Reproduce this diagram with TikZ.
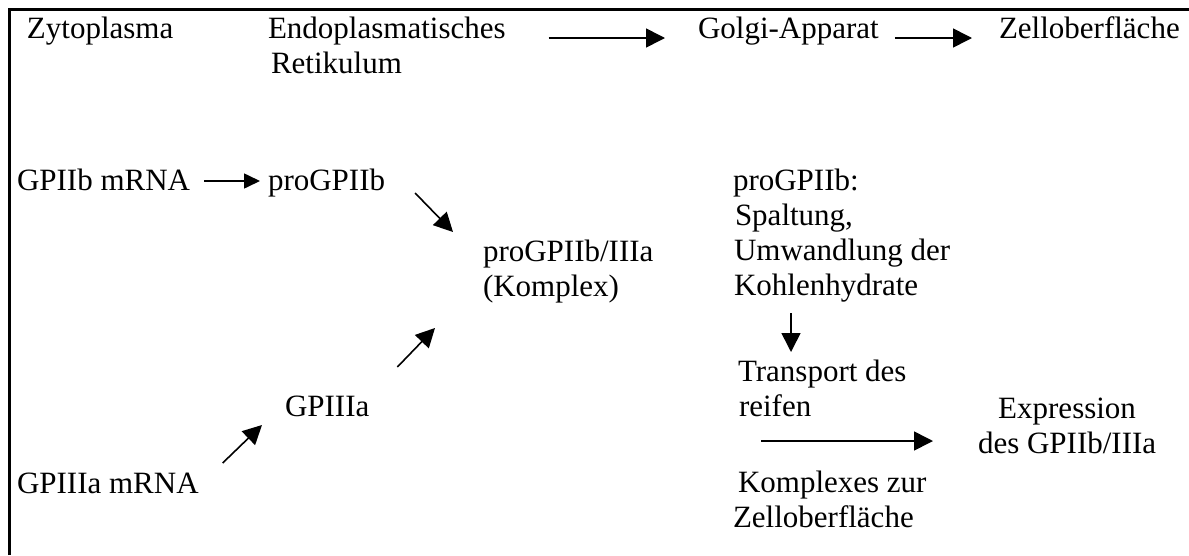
\documentclass[tikz,border=0pt]{standalone}
\usepackage{fontspec}
\setmainfont{Liberation Serif}
\usetikzlibrary{arrows.meta}
\begin{document}
\begin{tikzpicture}[x=1pt,y=-1pt,
  txt/.style={font=\fontsize{31}{35}\selectfont, inner sep=0pt, outer sep=0pt, anchor=base west, align=left},
  arr/.style={line width=1.6pt, -{Triangle[length=19pt,width=19pt]}},
  frame/.style={line width=3pt}]
\useasboundingbox (0,0) rectangle (1189,555);
\draw[frame] (9,555) -- (9,9) -- (1189,9);
% row 1 (multi-line nodes are placed at the baseline of their last line)
\node[txt] (zyto) at (27,38) {Zytoplasma};
\node[txt] (er) at (268,73) {Endoplasmatisches\\\hspace{3pt}Retikulum};
\node[txt] (golgi) at (698,38) {Golgi-Apparat};
\node[txt] (zelle) at (999,38) {Zelloberfläche};
% left part
\node[txt] (mrnab) at (17,190) {GPIIb mRNA};
\node[txt] (progpb) at (268,190) {proGPIIb};
\node[txt] (cpx) at (483,296) {proGPIIb/IIIa\\(Komplex)};
\node[txt] (gp3) at (285,416) {GPIIIa};
\node[txt] (mrna3) at (17,493) {GPIIIa mRNA};
% right part
\node[txt] (rb) at (733,295) {proGPIIb:\\\hspace{2pt}Spaltung,\\\hspace{1pt}Umwandlung der\\\hspace{1pt}Kohlenhydrate};
\node[txt] (tr) at (738,416) {Transport des\\\hspace{1pt}reifen};
\node[txt] (kz) at (738,527) {Komplexes zur\\\hspace{-5pt}Zelloberfläche};
\node[txt, align=center] (ex) at (978,453) {Expression\\des GPIIb/IIIa};
% connectors
\draw[arr, shorten <=43pt, shorten >=33pt] (er.east |- golgi.base) -- (golgi.base west);
\draw[arr, shorten <=16pt, shorten >=27pt] (golgi.base east) -- (zelle.base west);
\draw[arr, -{Triangle[length=16pt,width=15pt]}, shorten <=14pt, shorten >=8pt] ([yshift=9pt]mrnab.base east) -- ([yshift=9pt]progpb.base west);
\draw[arr] ([shift={(30,3)}]progpb.base east) -- ([shift={(-30,-64)}]cpx.base west);
\draw[arr] ([shift={(28,-49)}]gp3.base east) -- ([shift={(-48,32)}]cpx.base west);
\draw[arr] ([shift={(24,-30)}]mrna3.base east) -- ([shift={(-23,9)}]gp3.base west);
\draw[arr] ([shift={(58,18)}]rb.base west) -- ([shift={(53,-64)}]tr.base west);
\draw[arr] ([shift={(23,-86)}]kz.base west) -- ([shift={(-45,-12)}]ex.base west);
\end{tikzpicture}
\end{document}
